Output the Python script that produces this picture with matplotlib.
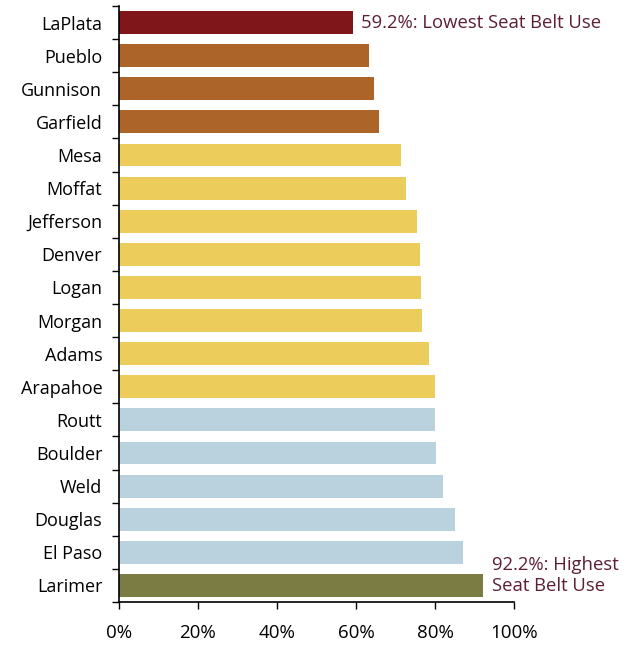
import numpy as np
import matplotlib.pyplot as plt
from matplotlib.ticker import FixedLocator

plt.rcParams['font.family'] = ['Open Sans', 'DejaVu Sans']

counties = ["LaPlata", "Pueblo", "Gunnison", "Garfield", "Mesa", "Moffat",
            "Jefferson", "Denver", "Logan", "Morgan", "Adams", "Arapahoe",
            "Routt", "Boulder", "Weld", "Douglas", "El Paso", "Larimer"]
usage = [59.2, 63.2, 64.5, 65.9, 71.4, 72.6,
         75.4, 76.3, 76.5, 76.8, 78.6, 80.0,
         80.0, 80.3, 82.0, 85.0, 87.2, 92.2]
groups = ["low", "mid", "mid", "mid", "yel", "yel",
          "yel", "yel", "yel", "yel", "yel", "yel",
          "blue", "blue", "blue", "blue", "blue", "high"]
group_colors = {"low": "#7f161a", "mid": "#ad6428", "yel": "#eccd5c",
                "blue": "#b9d2dd", "high": "#7a7c44"}
xticks = [0, 20, 40, 60, 80, 100]

fig = plt.figure(figsize=(6.35, 6.46), dpi=100)
ax = fig.add_axes([119/635, 1 - 602/646, 395/635, 596/646])

y = np.arange(len(counties))
ax.barh(y, usage, height=0.69, color=[group_colors[g] for g in groups])

ax.set_ylim(len(counties) - 0.5, -0.5)
ax.set_xlim(0, 100)
ax.set_yticks(y)
ax.set_yticklabels(counties, fontsize=13)
ax.yaxis.set_minor_locator(FixedLocator(np.arange(len(counties) + 1) - 0.5))
ax.tick_params(axis='y', which='major', length=0, pad=12)
ax.tick_params(axis='y', which='minor', length=5, width=1, direction='out')
ax.set_xticks(xticks)
ax.set_xticklabels([f"{t}%" for t in xticks], fontsize=13.5)
ax.tick_params(axis='x', length=5, width=1, direction='out', pad=11)

for s in ['top', 'right']:
    ax.spines[s].set_visible(False)
for s in ['left', 'bottom']:
    ax.spines[s].set_linewidth(1.2)

ax.text(usage[0] + 2.0, 0, f"{usage[0]}%: Lowest Seat Belt Use",
        color="#5c1f33", fontsize=13.3, va='center', ha='left')
ax.text(usage[-1] + 2.2, len(counties) - 1.3, f"{usage[-1]}%: Highest\nSeat Belt Use",
        color="#5c1f33", fontsize=13.3, va='center', ha='left', linespacing=1.25,
        clip_on=False)

fig.savefig("out.png", dpi=100)
